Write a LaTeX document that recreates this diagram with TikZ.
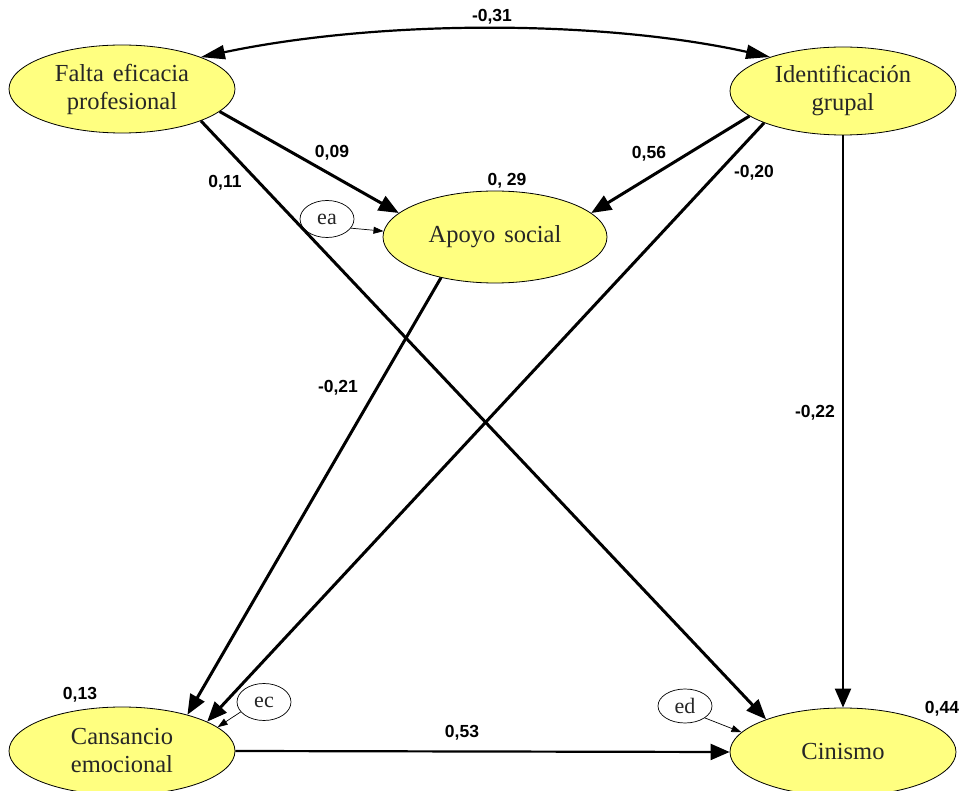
\documentclass[tikz,border=0pt]{standalone}
\usepackage{fontspec}
\setmainfont{Liberation Serif}
\newfontfamily\labfont{Liberation Sans}
\usetikzlibrary{shapes.geometric,arrows.meta}
\definecolor{latfill}{RGB}{255,255,128}
\newcommand\mywidespace{\spaceskip=9pt plus 2pt\relax}
\tikzset{
  latent/.style={ellipse,draw=black,line width=0.8pt,fill=latfill,inner sep=0pt,
    minimum width=226pt,minimum height=88pt,align=center,
    font=\fontsize{24.5}{28}\selectfont\mywidespace,text=black!85},
  errnode/.style={ellipse,draw=black,line width=0.7pt,fill=white,inner sep=0pt,
    minimum width=54pt,minimum height=37pt,font=\fontsize{22}{24}\selectfont,text=black!85},
  coef/.style={font=\labfont\bfseries\fontsize{17.5}{19}\selectfont,inner sep=0pt},
  patharrow/.style={line width=3pt,-{Triangle[length=20pt,width=16pt]}},
  patharrowthin/.style={line width=2.2pt,-{Triangle[length=19pt,width=16pt]}},
  errarrow/.style={line width=0.7pt,-{Triangle[length=10pt,width=7pt]}}
}
\begin{document}
\begin{tikzpicture}[x=1pt,y=-1pt]
\useasboundingbox (0,0) rectangle (962,791);
\node[latent] (falta) at (122,89) {Falta eficacia\\profesional};
\node[latent] (ident) at (843,91) {Identificación\\grupal};
\node[latent,minimum width=224pt,minimum height=92pt] (apoyo) at (495,237) {Apoyo social};
\node[latent] (cans) at (122,751) {Cansancio\\emocional};
\node[latent] (cin) at (843,752) {Cinismo};
\node[errnode] (ea) at (327,219) {ea};
\node[errnode] (ec) at (264,702) {ec};
\node[errnode,minimum height=34pt] (ed) at (685,706) {ed};

\draw[line width=2.2pt,{Triangle[length=24pt,width=14pt]}-{Triangle[length=24pt,width=14pt]}]
  (falta.22) .. controls (380,19.5) and (600,19.5) .. (ident.155);
\draw[patharrow] (falta.-13) -- (apoyo.166);
\draw[patharrow] (falta.-22) -- (cin.157);
\draw[patharrow] (ident.-165) -- (apoyo.14);
\draw[patharrow] (ident.-158) -- (cans.19);
\draw[patharrow] (apoyo.-143) -- (cans.29);
\draw[patharrowthin] (ident.south) -- (cin.north);
\draw[patharrowthin] (cans.east) -- (cin.west);
\draw[errarrow] (ea.-21) -- (apoyo.177);
\draw[errarrow] (ec.-157) -- (cans.14);
\draw[errarrow] (ed.-31) -- (cin.169);

\node[coef] (c1) at (492,17) {-0,31};
\node[coef] (c2) at (332,153) {0,09};
\node[coef] (c3) at (225,183) {0,11};
\node[coef] (c4) at (507,181) {0, 29};
\node[coef] (c5) at (649,154) {0,56};
\node[coef] (c6) at (754,173) {-0,20};
\node[coef] (c7) at (338,388) {-0,21};
\node[coef] (c8) at (815,413) {-0,22};
\node[coef] (c9) at (80,695) {0,13};
\node[coef] (c10) at (462,733) {0,53};
\node[coef] (c11) at (942,709) {0,44};
\end{tikzpicture}
\end{document}
